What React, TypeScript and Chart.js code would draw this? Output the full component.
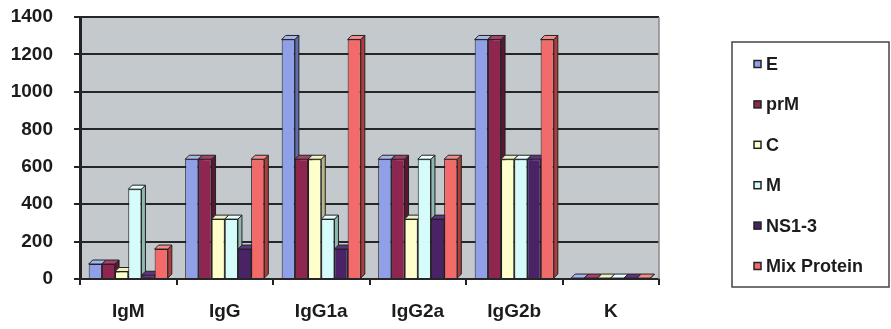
import React, { useEffect, useRef } from 'react';
import { Chart, registerables } from 'chart.js';

Chart.register(...registerables);

const categories = ['IgM', 'IgG', 'IgG1a', 'IgG2a', 'IgG2b', 'K'];
const seriesNames = ['E', 'prM', 'C', 'M', 'NS1-3', 'Mix Protein'];
const valuesE = [80, 640, 1280, 640, 1280, 5];
const valuesPrM = [80, 640, 640, 640, 1280, 5];
const valuesC = [40, 320, 640, 320, 640, 5];
const valuesM = [480, 320, 320, 640, 640, 5];
const valuesNS13 = [20, 160, 160, 320, 640, 5];
const valuesMix = [160, 640, 1280, 640, 1280, 5];
const yMin = 0;
const yMax = 1400;
const yStep = 200;

const seriesColors = ['#8FA0E8', '#8E2650', '#FFFFCC', '#D6FBFB', '#4A2266', '#F26A6A'];
const sideColors = ['#5E6CB0', '#5C1634', '#B8B88C', '#8FB8B0', '#2A1240', '#B03C3C'];
const topColors = ['#A8B6F0', '#A8406A', '#F0F0C0', '#E6FFFF', '#5E3480', '#F88A8A'];

const FONT = '"Liberation Sans", Arial, sans-serif';
const INK = '#1c1c1c';
const DEPTH = 4;

const bgPlugin = {
  id: 'plotBg',
  beforeDraw(chart: any) {
    const { ctx, chartArea: a } = chart;
    ctx.save();
    ctx.fillStyle = '#C4C9CE';
    ctx.fillRect(a.left, a.top, a.right - a.left, a.bottom - a.top);
    ctx.restore();
  },
  beforeDatasetsDraw(chart: any) {
    const { ctx, chartArea: a } = chart;
    const yScale = chart.scales.y;
    ctx.save();
    ctx.strokeStyle = '#262626';
    ctx.lineWidth = 2;
    yScale.ticks.forEach((t: any) => {
      const py = Math.round(yScale.getPixelForValue(t.value));
      ctx.beginPath();
      ctx.moveTo(a.left, py);
      ctx.lineTo(a.right, py);
      ctx.stroke();
    });
    ctx.restore();
  },
  afterDraw(chart: any) {
    const { ctx, chartArea: a } = chart;
    ctx.save();
    ctx.strokeStyle = '#8a8a8a';
    ctx.lineWidth = 1.5;
    ctx.beginPath();
    ctx.moveTo(a.right, a.top);
    ctx.lineTo(a.right, a.bottom);
    ctx.stroke();
    ctx.restore();
  },
};

const depthPlugin = {
  id: 'barDepth',
  beforeDatasetsDraw(chart: any) {
    const ctx = chart.ctx;
    ctx.save();
    chart.data.datasets.forEach((ds: any, di: number) => {
      const meta = chart.getDatasetMeta(di);
      meta.data.forEach((bar: any) => {
        const { x, y, base, width } = bar.getProps(['x', 'y', 'base', 'width'], true);
        const l = x - width / 2;
        const r = x + width / 2;
        ctx.lineWidth = 1;
        ctx.strokeStyle = '#222';
        ctx.fillStyle = sideColors[di];
        ctx.beginPath();
        ctx.moveTo(r, y);
        ctx.lineTo(r + DEPTH, y - DEPTH);
        ctx.lineTo(r + DEPTH, base - DEPTH);
        ctx.lineTo(r, base);
        ctx.closePath();
        ctx.fill();
        ctx.stroke();
        ctx.fillStyle = topColors[di];
        ctx.beginPath();
        ctx.moveTo(l, y);
        ctx.lineTo(l + DEPTH, y - DEPTH);
        ctx.lineTo(r + DEPTH, y - DEPTH);
        ctx.lineTo(r, y);
        ctx.closePath();
        ctx.fill();
        ctx.stroke();
      });
    });
    ctx.restore();
  },
};

const legendPlugin = {
  id: 'boxLegend',
  afterDraw(chart: any) {
    const ctx = chart.ctx;
    ctx.save();
    const bx = 732, by = 42, bw = 157, bh = 245;
    ctx.fillStyle = '#ffffff';
    ctx.fillRect(bx, by, bw, bh);
    ctx.strokeStyle = '#444';
    ctx.lineWidth = 1.5;
    ctx.strokeRect(bx, by, bw, bh);
    ctx.font = `bold 18px ${FONT}`;
    ctx.textBaseline = 'middle';
    ctx.textAlign = 'left';
    chart.data.datasets.forEach((ds: any, i: number) => {
      const cy = 64 + i * 40.4;
      ctx.fillStyle = ds.backgroundColor;
      ctx.fillRect(754, cy - 3.5, 7, 7);
      ctx.strokeStyle = '#222';
      ctx.lineWidth = 1.5;
      ctx.strokeRect(754, cy - 3.5, 7, 7);
      ctx.fillStyle = INK;
      ctx.fillText(ds.label, 766, cy + 1);
    });
    ctx.restore();
  },
};

export default function App() {
  const canvasRef = useRef<HTMLCanvasElement | null>(null);

  useEffect(() => {
    const canvas = canvasRef.current;
    if (!canvas) return;
    const seriesValues = [valuesE, valuesPrM, valuesC, valuesM, valuesNS13, valuesMix];
    const chart = new Chart(canvas, {
      type: 'bar',
      data: {
        labels: categories,
        datasets: seriesNames.map((name, i) => ({
          label: name,
          data: seriesValues[i],
          backgroundColor: seriesColors[i],
          borderColor: '#222',
          borderWidth: 1,
          categoryPercentage: 0.82,
          barPercentage: 1.0,
        })),
      },
      options: {
        responsive: false,
        animation: false,
        devicePixelRatio: 1,
        layout: { padding: { top: 17, right: 232, left: 0, bottom: 0 } },
        plugins: {
          legend: { display: false },
          tooltip: { enabled: false },
        },
        scales: {
          x: {
            grid: {
              offset: true,
              drawOnChartArea: false,
              color: '#222',
              lineWidth: 2,
              tickLength: 6,
            },
            border: { color: '#222', width: 2 },
            ticks: {
              color: INK,
              font: { family: FONT, size: 19, weight: 'bold' },
              padding: 15,
            },
            afterFit(scale: any) {
              scale.height = 50;
              scale.paddingLeft = 0;
              scale.paddingRight = 0;
            },
          },
          y: {
            min: yMin,
            max: yMax,
            grid: {
              drawOnChartArea: false,
              color: '#222',
              lineWidth: 2,
              tickLength: 6,
              tickColor: '#222',
            },
            border: { color: '#222', width: 3 },
            ticks: {
              stepSize: yStep,
              color: INK,
              font: { family: FONT, size: 19, weight: 'bold' },
              padding: 21,
              callback: (v: any) => String(v),
            },
            afterFit(scale: any) {
              scale.width = 80;
              scale.paddingTop = 0;
              scale.paddingBottom = 0;
            },
          },
        },
      },
      plugins: [bgPlugin, depthPlugin, legendPlugin],
    });
    return () => chart.destroy();
  }, []);

  return (
    <div style={{ position: 'absolute', left: 0, top: 0, width: 891, height: 329, background: '#fff' }}>
      <canvas ref={canvasRef} width={891} height={329} style={{ display: 'block' }} />
    </div>
  );
}
